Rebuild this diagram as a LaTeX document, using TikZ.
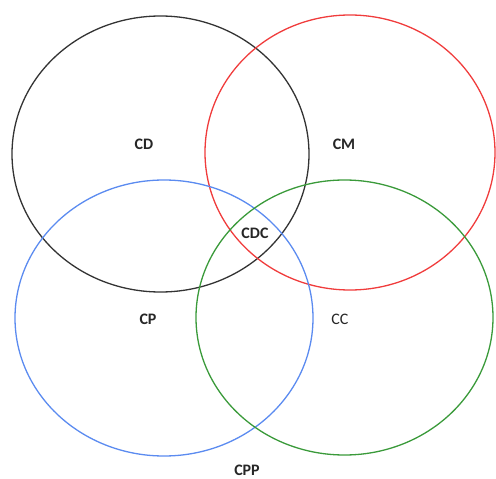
\documentclass[tikz,border=0pt]{standalone}
\usepackage{fontspec}
\setmainfont{Carlito}
\begin{document}
\begin{tikzpicture}[x=1pt,y=-1pt,
  ring/.style={line width=1.3pt},
  lbl/.style={font=\fontsize{16}{18}\selectfont\bfseries, text=black!85, inner sep=1pt},
  lblr/.style={font=\fontsize{16}{18}\selectfont, text=black!85, inner sep=1pt}]
\useasboundingbox (0,0) rectangle (496,479);
\definecolor{cblack}{HTML}{333333}
\definecolor{cred}{HTML}{F03C3C}
\definecolor{cblue}{HTML}{5B8BF0}
\definecolor{cgreen}{HTML}{3A9A3A}
\draw[ring,cblack] (160.5,154) ellipse [x radius=148.5, y radius=138];
\draw[ring,cred] (350,152.5) ellipse [x radius=145, y radius=137.5];
\draw[ring,cblue] (164,318) ellipse [x radius=149, y radius=138];
\draw[ring,cgreen] (344.5,317.5) ellipse [x radius=148.5, y radius=137.5];
\node[lbl] (cd) at (144,144) {CD};
\node[lbl] (cm) at (344,144) {CM};
\node[lbl] (cdc) at (255,233) {CDC};
\node[lbl] (cp) at (148,319) {CP};
\node[lblr] (cc) at (340,319) {CC};
\node[lbl] (cpp) at (247,470) {CPP};
\end{tikzpicture}
\end{document}
